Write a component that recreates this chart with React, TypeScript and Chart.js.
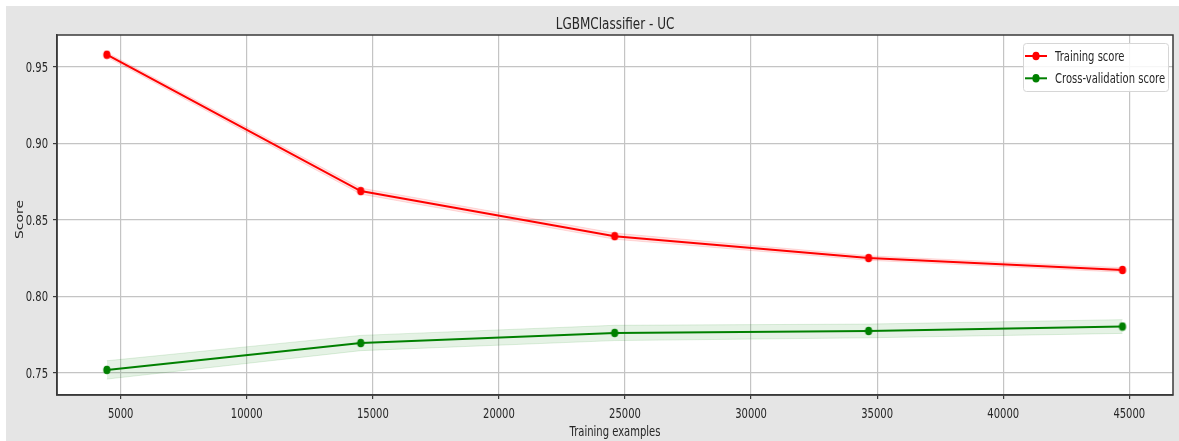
import React, { useEffect, useRef } from "react";
import { Chart, registerables } from "chart.js";

Chart.register(...registerables);

// Learning-curve data
const trainSizes = [4450, 14520, 24590, 34660, 44730];
const trainScores = [0.958, 0.8688, 0.8393, 0.825, 0.8172];
const trainStd = [0.0015, 0.002, 0.002, 0.0015, 0.0015];
const cvScores = [0.7518, 0.7694, 0.776, 0.7773, 0.7802];
const cvStd = [0.006, 0.005, 0.005, 0.0045, 0.0045];

const xTicks = [5000, 10000, 15000, 20000, 25000, 30000, 35000, 40000, 45000];
const yTicks = [0.75, 0.8, 0.85, 0.9, 0.95];

const titleText = "LGBMClassifier - UC";
const xLabel = "Training examples";
const yLabel = "Score";
const legendLabels = ["Training score", "Cross-validation score"];

const FONT = "'DejaVu Sans', sans-serif";
const TEXT = "#262626";
const RED = "#ff0000";
const GREEN = "#008000";
const SQUEEZE = 0.72; // horizontal compression of the whole figure

const pts = (ys: number[]) => trainSizes.map((x, i) => ({ x, y: ys[i] }));
const upper = (m: number[], s: number[]) => pts(m.map((v, i) => v + s[i]));
const lower = (m: number[], s: number[]) => pts(m.map((v, i) => v - s[i]));

// oval marker, narrower than tall
function makeMarker(color: string) {
  const c = document.createElement("canvas");
  c.width = 10;
  c.height = 10;
  const g = c.getContext("2d")!;
  g.fillStyle = color;
  g.beginPath();
  g.ellipse(5, 5, 3.6, 4.3, 0, 0, Math.PI * 2);
  g.fill();
  return c;
}

function text(
  ctx: CanvasRenderingContext2D,
  s: string,
  x: number,
  y: number,
  size: number,
  align: CanvasTextAlign,
  vertical = false
) {
  ctx.save();
  ctx.translate(x, y);
  if (vertical) {
    ctx.rotate(-Math.PI / 2);
    ctx.scale(1, SQUEEZE);
  } else {
    ctx.scale(SQUEEZE, 1);
  }
  ctx.font = `${size}px ${FONT}`;
  ctx.fillStyle = TEXT;
  ctx.textAlign = align;
  ctx.textBaseline = "alphabetic";
  ctx.fillText(s, 0, 0);
  ctx.restore();
}

const decorPlugin = {
  id: "decor",
  beforeDraw(chart: any) {
    const { ctx, chartArea: a } = chart;
    ctx.save();
    ctx.fillStyle = "#ffffff";
    ctx.fillRect(a.left, a.top, a.right - a.left, a.bottom - a.top);
    ctx.restore();
  },
  afterDraw(chart: any) {
    const { ctx, chartArea: a, scales } = chart;
    ctx.save();
    ctx.strokeStyle = "#3a3a3a";
    ctx.lineWidth = 1.5;
    ctx.strokeRect(a.left, a.top, a.right - a.left, a.bottom - a.top);
    ctx.restore();

    // tick labels
    const xs = scales.x;
    const ys = scales.y;
    xTicks.forEach((v) => text(ctx, String(v), xs.getPixelForValue(v), a.bottom + 22.5, 13.9, "center"));
    yTicks.forEach((v) => text(ctx, v.toFixed(2), a.left - 9, ys.getPixelForValue(v) + 5, 13.9, "right"));

    // titles
    const cx = (a.left + a.right) / 2;
    text(ctx, titleText, cx, 22.6, 16.7, "center");
    text(ctx, xLabel, cx, a.bottom + 40.5, 13.9, "center");
    text(ctx, yLabel, 16.5, (a.top + a.bottom) / 2 + 4.5, 13.9, "center", true);

    // legend box in the upper right corner
    const bx = a.right - 150;
    const by = a.top + 8;
    const bw = 145;
    const bh = 48;
    ctx.save();
    ctx.globalAlpha = 0.85;
    ctx.fillStyle = "#ffffff";
    ctx.beginPath();
    ctx.roundRect(bx + 0.5, by + 0.5, bw, bh, 3);
    ctx.fill();
    ctx.globalAlpha = 1;
    ctx.strokeStyle = "#d6d6d6";
    ctx.lineWidth = 1;
    ctx.stroke();

    const colors = [RED, GREEN];
    legendLabels.forEach((label, i) => {
      const y = by + 13 + i * 22.3;
      ctx.strokeStyle = colors[i];
      ctx.lineWidth = 2;
      ctx.beginPath();
      ctx.moveTo(bx + 2, y);
      ctx.lineTo(bx + 24, y);
      ctx.stroke();
      ctx.fillStyle = colors[i];
      ctx.beginPath();
      ctx.ellipse(bx + 13, y, 3.6, 4.3, 0, 0, Math.PI * 2);
      ctx.fill();
      text(ctx, label, bx + 32, y + 4.8, 13.9, "left");
    });
    ctx.restore();
  },
};

export default function App() {
  const ref = useRef<HTMLCanvasElement | null>(null);

  useEffect(() => {
    if (!ref.current) return;
    const redDot = makeMarker(RED);
    const greenDot = makeMarker(GREEN);
    const chart = new Chart(ref.current, {
      type: "line",
      data: {
        datasets: [
          {
            label: legendLabels[0],
            data: pts(trainScores),
            borderColor: RED,
            backgroundColor: RED,
            borderWidth: 2,
            pointStyle: redDot,
            pointRadius: 4,
            fill: false,
          },
          {
            label: legendLabels[1],
            data: pts(cvScores),
            borderColor: GREEN,
            backgroundColor: GREEN,
            borderWidth: 2,
            pointStyle: greenDot,
            pointRadius: 4,
            fill: false,
          },
          {
            label: "train+",
            data: upper(trainScores, trainStd),
            borderColor: "rgba(255,0,0,0.12)",
            borderWidth: 1,
            pointRadius: 0,
            fill: false,
          },
          {
            label: "train-",
            data: lower(trainScores, trainStd),
            borderColor: "rgba(255,0,0,0.12)",
            backgroundColor: "rgba(255,0,0,0.1)",
            borderWidth: 1,
            pointRadius: 0,
            fill: "-1",
          },
          {
            label: "cv+",
            data: upper(cvScores, cvStd),
            borderColor: "rgba(0,128,0,0.12)",
            borderWidth: 1,
            pointRadius: 0,
            fill: false,
          },
          {
            label: "cv-",
            data: lower(cvScores, cvStd),
            borderColor: "rgba(0,128,0,0.12)",
            backgroundColor: "rgba(0,128,0,0.1)",
            borderWidth: 1,
            pointRadius: 0,
            fill: "-1",
          },
        ],
      },
      options: {
        animation: false,
        responsive: false,
        devicePixelRatio: 1,
        layout: { padding: { top: 29, left: 0, right: 6, bottom: 0 } },
        plugins: {
          legend: { display: false },
          tooltip: { enabled: false },
          title: { display: false },
          filler: { drawTime: "beforeDatasetsDraw" },
        },
        scales: {
          x: {
            type: "linear",
            min: 2474,
            max: 46733,
            afterFit: (s: any) => {
              s.height = 46;
            },
            afterBuildTicks: (s: any) => {
              s.ticks = xTicks.map((v) => ({ value: v }));
            },
            ticks: { display: false },
            grid: { color: "#c4c4c4", lineWidth: 1.2, tickColor: "#3a3a3a", tickLength: 4 },
            border: { display: true, color: "#3a3a3a", width: 1.5 },
          },
          y: {
            type: "linear",
            min: 0.7354,
            max: 0.9709,
            afterFit: (s: any) => {
              s.width = 51;
            },
            afterBuildTicks: (s: any) => {
              s.ticks = yTicks.map((v) => ({ value: v }));
            },
            ticks: { display: false },
            grid: { color: "#c4c4c4", lineWidth: 1.2, tickColor: "#3a3a3a", tickLength: 4 },
            border: { display: true, color: "#3a3a3a", width: 1.5 },
          },
        },
      },
      plugins: [decorPlugin],
    } as any);
    return () => chart.destroy();
  }, []);

  return (
    <div
      style={{
        position: "absolute",
        left: 6,
        top: 6,
        width: 1173,
        height: 435,
        background: "#e5e5e5",
      }}
    >
      <canvas ref={ref} width={1173} height={435} style={{ display: "block" }} />
    </div>
  );
}
